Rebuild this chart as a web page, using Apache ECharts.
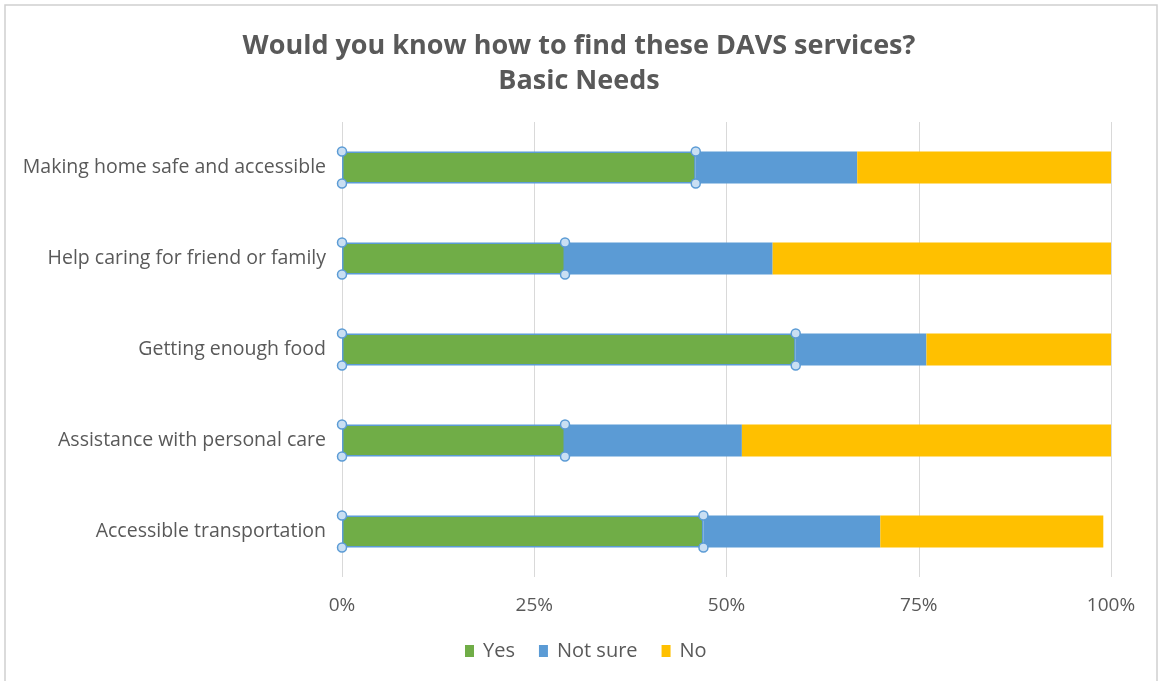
<!DOCTYPE html>
<html>
<head>
<meta charset="utf-8">
<script src="https://cdn.jsdelivr.net/npm/echarts@6/dist/echarts.min.js"></script>
<style>
html,body{margin:0;padding:0;background:#fff;}
#chart{width:1158px;height:681px;}
</style>
</head>
<body>
<div id="chart"></div>
<script>
var categories = ["Making home safe and accessible", "Help caring for friend or family", "Getting enough food", "Assistance with personal care", "Accessible transportation"];
var yesValues = [46, 29, 59, 29, 47];
var notSureValues = [21, 27, 17, 23, 23];
var noValues = [33, 44, 24, 48, 29];
var xTicks = [0, 25, 50, 75, 100];
var seriesNames = ["Yes", "Not sure", "No"];

var FONT = "'Open Sans', 'Noto Sans', sans-serif";
var chart = echarts.init(document.getElementById('chart'));

var handleData = [];
yesValues.forEach(function (v, i) {
  handleData.push([0, i]);
  handleData.push([v, i]);
});

var option = {
  backgroundColor: '#fff',
  animation: false,
  graphic: [{
    type: 'rect',
    shape: { x: 5, y: 5, width: 1152, height: 690 },
    style: { fill: 'none', stroke: '#D0D0D0', lineWidth: 1.5 },
    silent: true
  }],
  title: {
    text: 'Would you know how to find these DAVS services?\nBasic Needs',
    left: 'center',
    top: 24,
    textStyle: { fontFamily: FONT, fontSize: 27, fontWeight: 'bold', color: '#595959', lineHeight: 35 }
  },
  legend: {
    data: seriesNames,
    top: 636,
    left: 460,
    itemWidth: 9,
    itemHeight: 12,
    itemGap: 24,
    icon: 'rect',
    itemStyle: { borderWidth: 0 },
    textStyle: { fontFamily: FONT, fontSize: 20, color: '#595959', padding: [0, 0, 0, 4] }
  },
  grid: { left: 342, right: 47, top: 122, bottom: 104, containLabel: false },
  xAxis: {
    type: 'value',
    min: 0,
    max: 100,
    interval: 25,
    axisLine: { show: false },
    axisTick: { show: false },
    axisLabel: { formatter: '{value}%', fontFamily: FONT, fontSize: 19, color: '#595959', margin: 19 },
    splitLine: { show: true, lineStyle: { color: '#D9D9D9', width: 1 } }
  },
  yAxis: {
    type: 'category',
    data: categories,
    inverse: true,
    axisLine: { show: false },
    axisTick: { show: false },
    axisLabel: { fontFamily: FONT, fontSize: 19.5, color: '#595959', margin: 16 }
  },
  series: [
    {
      name: 'Yes', type: 'bar', stack: 'total', data: yesValues, barWidth: 32,
      itemStyle: { color: '#70AD47', borderColor: '#5B9BD5', borderWidth: 1.5 }
    },
    {
      name: 'Not sure', type: 'bar', stack: 'total', data: notSureValues, barWidth: 32,
      itemStyle: { color: '#5B9BD5' }
    },
    {
      name: 'No', type: 'bar', stack: 'total', data: noValues, barWidth: 32,
      itemStyle: { color: '#FFC000' }
    },
    {
      type: 'custom',
      silent: true,
      z: 10,
      encode: { x: 0, y: 1 },
      data: handleData,
      renderItem: function (params, api) {
        var p = api.coord([api.value(0), api.value(1)]);
        var h = 16;
        var st = { fill: '#C9DFF3', stroke: '#5B9BD5', lineWidth: 1.5 };
        return {
          type: 'group',
          children: [
            { type: 'circle', shape: { cx: p[0], cy: p[1] - h, r: 4.5 }, style: st },
            { type: 'circle', shape: { cx: p[0], cy: p[1] + h, r: 4.5 }, style: st }
          ]
        };
      }
    }
  ]
};
chart.setOption(option);
</script>
</body>
</html>
